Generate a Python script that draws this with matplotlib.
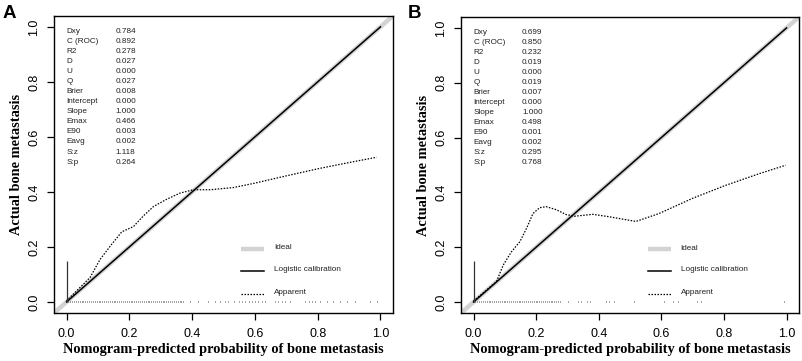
import numpy as np
import matplotlib
matplotlib.use("Agg")
import matplotlib.pyplot as plt

# calibration stats
stat_names = ["Dxy", "C (ROC)", "R2", "D", "U", "Q", "Brier", "Intercept",
              "Slope", "Emax", "E90", "Eavg", "S:z", "S:p"]
stats_a = ["0.784", "0.892", "0.278", "0.027", "0.000", "0.027", "0.008", "0.000",
           "1.000", "0.466", "0.003", "0.002", "1.118", "0.264"]
stats_b = ["0.699", "0.850", "0.232", "0.019", "0.000", "0.019", "0.007", "0.000",
           "1.000", "0.498", "0.001", "0.002", "0.295", "0.768"]

# apparent calibration curves
app_a_x = [0.0, 0.075, 0.107, 0.144, 0.176, 0.213, 0.245, 0.277, 0.32, 0.362, 0.404,
           0.458, 0.532, 0.596, 0.702, 0.808, 0.914, 0.988]
app_a_y = [0.004, 0.089, 0.155, 0.21, 0.255, 0.274, 0.313, 0.347, 0.374, 0.396, 0.408,
           0.408, 0.416, 0.431, 0.459, 0.486, 0.51, 0.526]
app_b_x = [0.0, 0.073, 0.095, 0.121, 0.148, 0.169, 0.19, 0.211, 0.232, 0.264, 0.296,
           0.323, 0.381, 0.434, 0.519, 0.593, 0.699, 0.806, 0.912, 0.997]
app_b_y = [0.004, 0.074, 0.135, 0.183, 0.22, 0.268, 0.323, 0.344, 0.348, 0.337, 0.319,
           0.313, 0.32, 0.311, 0.294, 0.323, 0.378, 0.426, 0.468, 0.499]

# risk distribution spikes (predicted probabilities)
rug_a = [0.006, 0.012, 0.018, 0.024, 0.03, 0.036, 0.042, 0.048, 0.054, 0.06, 0.066,
         0.072, 0.078, 0.084, 0.09, 0.096, 0.102, 0.108, 0.114, 0.12, 0.126, 0.132,
         0.138, 0.144, 0.15, 0.156, 0.162, 0.168, 0.174, 0.18, 0.186, 0.192, 0.198,
         0.204, 0.21, 0.216, 0.222, 0.228, 0.234, 0.24, 0.246, 0.252, 0.258, 0.264,
         0.27, 0.276, 0.282, 0.288, 0.294, 0.3, 0.306, 0.312, 0.318, 0.324, 0.33,
         0.336, 0.342, 0.348, 0.354, 0.36, 0.366, 0.372,
         0.394, 0.420, 0.452, 0.473, 0.489, 0.505, 0.516, 0.532, 0.548, 0.558,
         0.569, 0.580, 0.590, 0.601, 0.611, 0.622, 0.632, 0.664, 0.675, 0.686, 0.696,
         0.712, 0.760, 0.771, 0.781, 0.792, 0.808, 0.829, 0.850, 0.872, 0.893, 0.919,
         0.967, 0.988]
rug_b = [0.006, 0.012, 0.018, 0.024, 0.03, 0.036, 0.042, 0.048, 0.054, 0.06, 0.066,
         0.072, 0.078, 0.084, 0.09, 0.096, 0.102, 0.108, 0.114, 0.12, 0.126, 0.132,
         0.138, 0.144, 0.15, 0.156, 0.162, 0.168, 0.174, 0.18, 0.186, 0.192, 0.198,
         0.204, 0.21, 0.216, 0.222, 0.228, 0.234, 0.24, 0.246, 0.252, 0.258, 0.264,
         0.27, 0.276, 0.301, 0.333, 0.344, 0.362, 0.371, 0.424, 0.434, 0.450,
         0.514, 0.609, 0.638, 0.652, 0.713, 0.728, 0.991]
spike_zero = 0.15

ticks = [0.0, 0.2, 0.4, 0.6, 0.8, 1.0]
tick_labels = ["0.0", "0.2", "0.4", "0.6", "0.8", "1.0"]

SANS = "Liberation Sans"
SERIF = "Liberation Serif"

fig = plt.figure(figsize=(8.03, 3.61), dpi=100)


def calib_panel(rect, stats, app_x, app_y, rug):
    ax = fig.add_axes(rect)
    ax.set_xlim(-0.04, 1.04)
    ax.set_ylim(-0.04, 1.04)

    ax.plot([-0.1, 1.1], [-0.1, 1.1], color="#d3d3d3", lw=3.2,
            solid_capstyle="butt", zorder=1)
    ax.plot([0, 1], [0, 1], color="black", lw=1.1, zorder=2)
    ax.plot(app_x, app_y, color="black", lw=0.9, ls=(0, (1.2, 1.2)), zorder=3)

    ax.vlines(rug, 0.0, 0.004, color="#444444", lw=0.7, zorder=3)
    ax.vlines([0.0], 0, spike_zero, color="#333333", lw=0.9, zorder=3)

    # stats block
    for i, (name, val) in enumerate(zip(stat_names, stats)):
        yy = 0.982 - i * 0.0364
        ax.text(0.0, yy, name, fontsize=5.9, family=SANS, color="#222222",
                va="center", ha="left")
        ax.text(0.155, yy, val, fontsize=5.9, family=SANS, color="#222222",
                va="center", ha="left")

    # legend
    ax.plot([0.557, 0.63], [0.192, 0.192], color="#d3d3d3", lw=3.2,
            solid_capstyle="butt")
    ax.plot([0.557, 0.63], [0.113, 0.113], color="black", lw=1.1)
    ax.plot([0.557, 0.63], [0.03, 0.03], color="black", lw=0.9, ls=(0, (1.2, 1.2)))
    for yy, lab in zip([0.192, 0.113, 0.03],
                       ["Ideal", "Logistic calibration", "Apparent"]):
        ax.text(0.662, yy + 0.005, lab, fontsize=5.9, family=SANS,
                color="#222222", va="center", ha="left")

    ax.set_xticks(ticks)
    ax.set_xticklabels(tick_labels, family=SANS, fontsize=9)
    ax.set_yticks(ticks)
    ax.set_yticklabels(tick_labels, family=SANS, fontsize=9,
                       rotation=90, va="center")
    ax.tick_params(direction="out", length=5.2, width=0.9)
    ax.tick_params(axis="x", pad=5.5)
    ax.tick_params(axis="y", pad=4.5)
    for s in ax.spines.values():
        s.set_linewidth(1.0)

    ax.set_xlabel("Nomogram-predicted probability of bone metastasis",
                  family=SERIF, fontweight="bold", fontsize=10.4, labelpad=2.5)
    ax.set_ylabel("Actual bone metastasis", family=SERIF,
                  fontweight="bold", fontsize=10.4, labelpad=4)
    return ax


calib_panel([0.0672, 0.133, 0.4222, 0.823], stats_a, app_a_x, app_a_y, rug_a)
calib_panel([0.5741, 0.133, 0.4210, 0.820], stats_b, app_b_x, app_b_y, rug_b)

fig.text(0.003, 0.985, "A", family=SANS, fontweight="bold", fontsize=13.5,
         va="top", ha="left")
fig.text(0.508, 0.985, "B", family=SANS, fontweight="bold", fontsize=13.5,
         va="top", ha="left")

plt.savefig("out.png", dpi=100)
plt.close()
